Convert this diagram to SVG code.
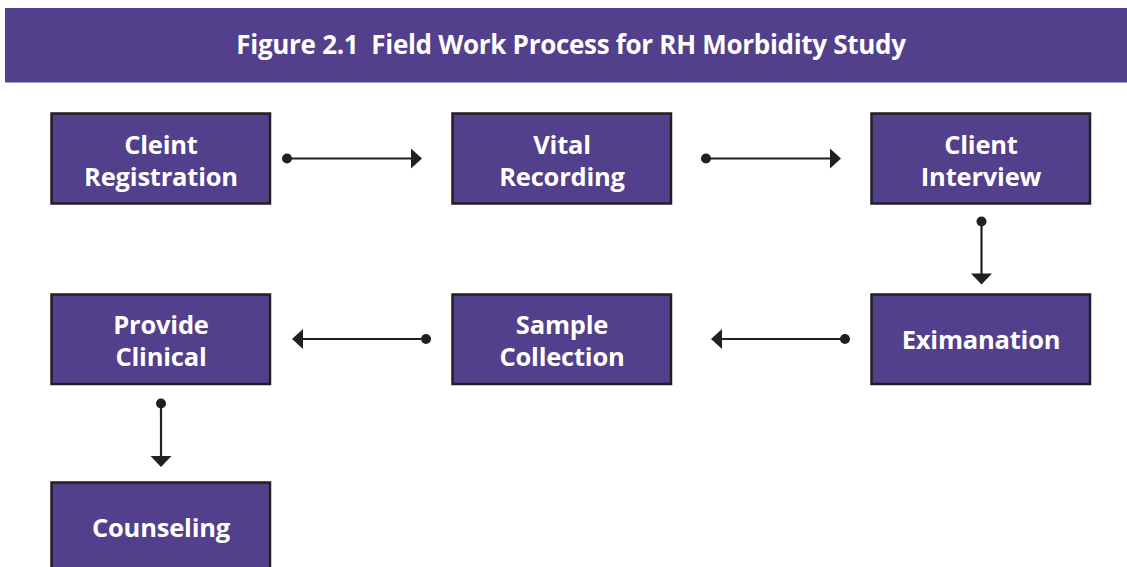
<svg xmlns="http://www.w3.org/2000/svg" width="1127" height="567" viewBox="0 0 1127 567">
  <style>
    .box { fill: #52408c; stroke: #231f20; stroke-width: 2.5; }
    .lbl { font-family: "Open Sans", "Liberation Sans", sans-serif; font-weight: 700; font-size: 25.5px; letter-spacing: -0.2px; fill: #ffffff; text-anchor: middle; }
    .title { font-family: "Open Sans", "Liberation Sans", sans-serif; font-weight: 700; font-size: 26px; letter-spacing: -0.3px; fill: #ffffff; text-anchor: middle; }
    .wire { stroke: #231f20; stroke-width: 2.2; fill: none; }
    .dot { fill: #231f20; }
    .head { fill: #231f20; }
  </style>

  <rect width="1127" height="567" fill="#ffffff"/>

  <!-- Title banner -->
  <g id="header">
    <rect x="5" y="8" width="1122" height="74.5" fill="#52408c"/>
    <text class="title" x="571" y="54" xml:space="preserve">Figure 2.1  Field Work Process for RH Morbidity Study</text>
  </g>

  <!-- Process steps -->
  <g id="n-registration">
    <rect class="box" x="51.5" y="113.5" width="218.5" height="90"/>
    <text class="lbl" x="161" y="154">Cleint</text>
    <text class="lbl" x="161" y="186">Registration</text>
  </g>
  <g id="n-vital">
    <rect class="box" x="452.5" y="113.5" width="218.5" height="90"/>
    <text class="lbl" x="562" y="154">Vital</text>
    <text class="lbl" x="562" y="186">Recording</text>
  </g>
  <g id="n-interview">
    <rect class="box" x="871.5" y="113.5" width="218.5" height="90"/>
    <text class="lbl" x="981" y="154">Client</text>
    <text class="lbl" x="981" y="186">Interview</text>
  </g>
  <g id="n-examination">
    <rect class="box" x="871.5" y="294.5" width="218.5" height="89.5"/>
    <text class="lbl" x="981" y="349">Eximanation</text>
  </g>
  <g id="n-sample">
    <rect class="box" x="452.5" y="294.5" width="218.5" height="89.5"/>
    <text class="lbl" x="562" y="334">Sample</text>
    <text class="lbl" x="562" y="366">Collection</text>
  </g>
  <g id="n-clinical">
    <rect class="box" x="51.5" y="294.5" width="218.5" height="89.5"/>
    <text class="lbl" x="161" y="334">Provide</text>
    <text class="lbl" x="161" y="366">Clinical</text>
  </g>
  <g id="n-counseling">
    <rect class="box" x="51.5" y="482.5" width="218.5" height="90"/>
    <text class="lbl" x="161" y="537">Counseling</text>
  </g>

  <!-- Connectors: dot at the source, filled triangle at the target -->
  <g id="connectors">
    <!-- registration -> vital -->
    <line class="wire" x1="287" y1="158.5" x2="412" y2="158.5"/>
    <circle class="dot" cx="287" cy="158.5" r="5"/>
    <polygon class="head" points="422,158.5 411,148.5 411,168.5"/>

    <!-- vital -> interview -->
    <line class="wire" x1="706" y1="158.5" x2="831" y2="158.5"/>
    <circle class="dot" cx="706" cy="158.5" r="5"/>
    <polygon class="head" points="841,158.5 830,148.5 830,168.5"/>

    <!-- interview -> examination -->
    <line class="wire" x1="981.5" y1="221.5" x2="981.5" y2="274"/>
    <circle class="dot" cx="981.5" cy="221.5" r="5"/>
    <polygon class="head" points="981.5,284.5 971,273.5 992,273.5"/>

    <!-- examination -> sample -->
    <line class="wire" x1="845" y1="339" x2="720" y2="339"/>
    <circle class="dot" cx="845" cy="339" r="5"/>
    <polygon class="head" points="711,339 722,329 722,349"/>

    <!-- sample -> clinical -->
    <line class="wire" x1="426" y1="339" x2="301" y2="339"/>
    <circle class="dot" cx="426" cy="339" r="5"/>
    <polygon class="head" points="292,339 303,329 303,349"/>

    <!-- clinical -> counseling -->
    <line class="wire" x1="161" y1="403.5" x2="161" y2="457"/>
    <circle class="dot" cx="161" cy="403.5" r="5"/>
    <polygon class="head" points="161,467 150.5,456 171.5,456"/>
  </g>
</svg>
